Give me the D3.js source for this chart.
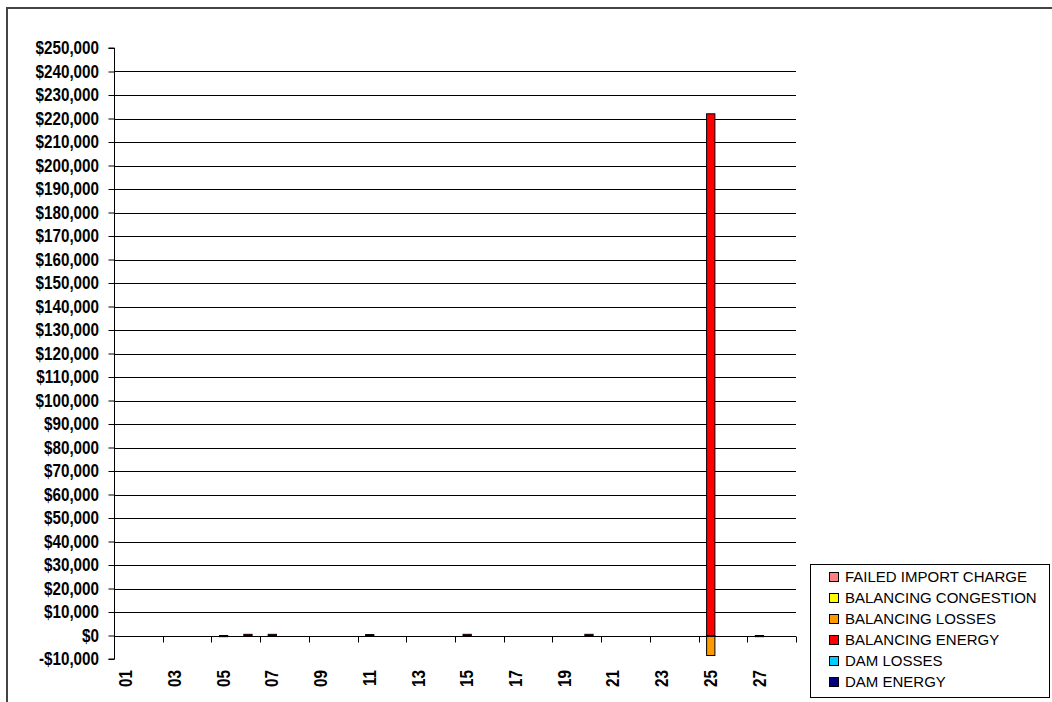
<!DOCTYPE html>
<html>
<head>
<meta charset="utf-8">
<script src="https://cdn.jsdelivr.net/npm/d3@7"></script>
<style>
  body { margin: 0; background: #fff; }
  svg { display: block; }
  .tick-label { font-family: "Liberation Sans Narrow", "Arial Narrow", "Liberation Sans", Arial, sans-serif; font-weight: bold; font-size: 17.5px; fill: #000; }
  .legend-label { font-family: "Liberation Sans", Arial, sans-serif; font-size: 15px; fill: #000; }
</style>
</head>
<body>
<div id="chart"></div>
<script>

  /**
   * Data
   */

  const days = d3.range(1, 29).map(d => d3.format('02d')(d));

  const seriesNames = [
    'FAILED IMPORT CHARGE',
    'BALANCING CONGESTION',
    'BALANCING LOSSES',
    'BALANCING ENERGY',
    'DAM LOSSES',
    'DAM ENERGY',
  ];

  const seriesColors = ['#FF8080', '#FFFF00', '#FF9900', '#FF0000', '#00CCFF', '#000080'];

  // one value per day, 01..28
  const failedImportCharge  = [0,0,0,0,0,0,0,0,0,0,0,0,0,0,0,0,0,0,0,0,0,0,0,0,0,0,0,0];
  const balancingCongestion = [0,0,0,0,0,0,0,0,0,0,0,0,0,0,0,0,0,0,0,0,0,0,0,0,0,0,0,0];
  const balancingLosses     = [0,0,0,0,0,0,0,0,0,0,0,0,0,0,0,0,0,0,0,0,0,0,0,0,-8500,0,0,0];
  const balancingEnergy     = [0,0,0,0,-500,500,500,0,0,0,400,0,0,0,500,0,0,0,0,500,0,0,0,0,222000,0,-500,0];
  const damLosses           = [0,0,0,0,0,0,0,0,0,0,0,0,0,0,0,0,0,0,0,0,0,0,0,0,0,0,0,0];
  const damEnergy           = [0,0,0,0,0,0,0,0,0,0,0,0,0,0,0,0,0,0,0,0,0,0,0,0,0,0,0,0];

  const yTicks = d3.range(-10000, 250001, 10000);



  /**
   * Setup
   */

  const width = 1052;
  const height = 702;
  const plot = { left: 114, right: 796, top: 48, bottom: 659 };
  const squeeze = 0.87; // fakes the narrow face

  const allSeries = [failedImportCharge, balancingCongestion, balancingLosses, balancingEnergy, damLosses, damEnergy];

  const table = days.map((day, i) => {
    const row = { day };
    seriesNames.forEach((name, s) => { row[name] = allSeries[s][i]; });
    return row;
  });

  const svg = d3.select('#chart')
                .append('svg')
                .attr('width', width)
                .attr('height', height);

  svg.append('rect')
     .attr('x', 7)
     .attr('y', 8)
     .attr('width', 1100)
     .attr('height', 800)
     .attr('fill', 'none')
     .attr('stroke', '#444')
     .attr('stroke-width', 2);

  const x = d3.scaleBand()
              .domain(days)
              .range([plot.left, plot.right]);

  const y = d3.scaleLinear()
              .domain([-10000, 250000])
              .range([plot.bottom, plot.top]);

  const fmt = v => (v < 0 ? '-$' : '$') + d3.format(',')(Math.abs(v));



  /**
   * Gridlines and axes
   */

  svg.append('g')
     .selectAll('line')
     .data(yTicks.filter(t => t > -10000 && t < 250000))
     .enter()
     .append('line')
     .attr('x1', plot.left)
     .attr('x2', plot.right)
     .attr('y1', d => Math.round(y(d)) + 0.5)
     .attr('y2', d => Math.round(y(d)) + 0.5)
     .attr('stroke', '#000')
     .attr('stroke-width', 1);

  const yAxis = svg.append('g')
                   .attr('transform', `translate(${plot.left + 0.5},0)`)
                   .call(d3.axisLeft(y).tickValues(yTicks).tickFormat('').tickSize(6));

  yAxis.select('.domain').attr('stroke', '#000').attr('d', `M-6,${plot.top}H0V${plot.bottom}H-6`);
  yAxis.selectAll('.tick line').attr('stroke', '#000');

  svg.append('g')
     .selectAll('text')
     .data(yTicks)
     .enter()
     .append('text')
     .attr('class', 'tick-label')
     .attr('transform', d => `translate(99,${y(d)}) scale(${squeeze},1)`)
     .attr('text-anchor', 'end')
     .attr('dy', '0.35em')
     .text(fmt);



  /**
   * Bars
   */

  const stacked = d3.stack()
                    .keys(seriesNames)
                    .offset(d3.stackOffsetDiverging)(table);

  const barWidth = x.bandwidth() * 0.34;

  svg.append('g')
     .selectAll('g')
     .data(stacked)
     .enter()
     .append('g')
     .attr('fill', (d, i) => seriesColors[i])
     .selectAll('rect')
     .data(d => d.filter(p => p[1] !== p[0]))
     .enter()
     .append('rect')
     .attr('x', d => x(d.data.day) + (x.bandwidth() - barWidth) / 2)
     .attr('width', barWidth)
     .attr('y', d => y(Math.max(d[0], d[1])))
     .attr('height', d => Math.max(1, Math.abs(y(d[0]) - y(d[1]))))
     .attr('stroke', '#000')
     .attr('stroke-width', 1);



  /**
   * Category axis at zero
   */

  const y0 = Math.round(y(0)) + 0.5;

  svg.append('line')
     .attr('x1', plot.left)
     .attr('x2', plot.right)
     .attr('y1', y0)
     .attr('y2', y0)
     .attr('stroke', '#000');

  const boundaries = days.filter((d, i) => i % 2 === 0).map(d => x(d)).concat([plot.right]);

  svg.append('g')
     .selectAll('line')
     .data(boundaries)
     .enter()
     .append('line')
     .attr('x1', d => Math.round(d) + 0.5)
     .attr('x2', d => Math.round(d) + 0.5)
     .attr('y1', y0)
     .attr('y2', y0 + 6)
     .attr('stroke', '#000');

  svg.append('g')
     .selectAll('text')
     .data(days.filter((d, i) => i % 2 === 0))
     .enter()
     .append('text')
     .attr('class', 'tick-label')
     .attr('transform', d => `translate(${x(d) + x.bandwidth() / 2},670) rotate(-90) scale(${squeeze},1)`)
     .attr('text-anchor', 'end')
     .attr('dy', '0.35em')
     .text(d => d);



  /**
   * Legend
   */

  const legend = svg.append('g').attr('transform', 'translate(810,564)');

  legend.append('rect')
        .attr('x', 0.5)
        .attr('y', 0.5)
        .attr('width', 239)
        .attr('height', 133)
        .attr('fill', '#fff')
        .attr('stroke', '#000');

  const items = legend.selectAll('g')
                      .data(seriesNames)
                      .enter()
                      .append('g')
                      .attr('transform', (d, i) => `translate(0,${13 + i * 21})`);

  items.append('rect')
       .attr('x', 19.5)
       .attr('y', -4.5)
       .attr('width', 9)
       .attr('height', 9)
       .attr('fill', (d, i) => seriesColors[i])
       .attr('stroke', '#000');

  items.append('text')
       .attr('class', 'legend-label')
       .attr('x', 35)
       .attr('dy', '0.36em')
       .text(d => d);

</script>
</body>
</html>
